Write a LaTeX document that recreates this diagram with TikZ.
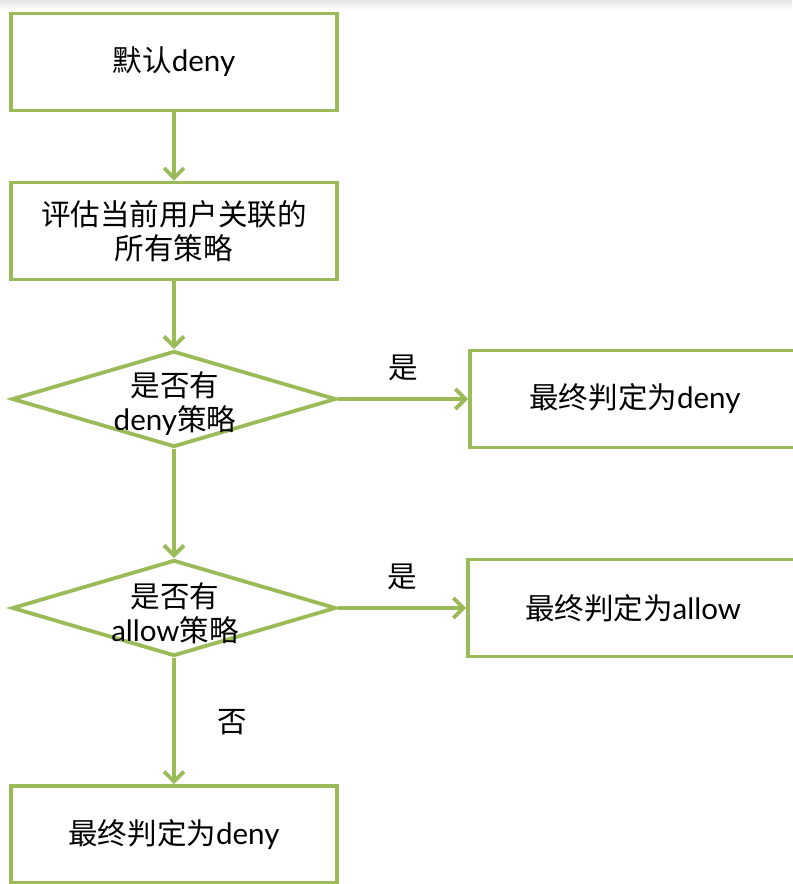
\documentclass[tikz,border=0pt]{standalone}
\usepackage{fontspec}
\setmainfont{Noto Sans CJK SC}
\newfontfamily\enfont{Lato}
\usetikzlibrary{shapes.geometric}
\usetikzlibrary{arrows.meta}
\usepackage{tikz}
\definecolor{leaf}{RGB}{155,187,89}

\begin{document}
\begin{tikzpicture}[x=0.025cm, y=-0.025cm,
  every node/.style={font=\fontsize{21}{24.2}\selectfont},
  block/.style={draw=leaf, line width=2.7pt, rectangle, minimum width=8.15cm, minimum height=2.42cm, align=center, inner sep=0pt},
  decision/.style={draw=leaf, line width=2.7pt, diamond, minimum width=8.1cm, minimum height=2.4cm, inner sep=0pt},
  dtext/.style={align=center, inner sep=0pt},
  flow/.style={draw=leaf, line width=2.7pt, -{Straight Barb[length=2.5mm, width=5mm]}}]
\useasboundingbox (0,0) rectangle (792,884);
\shade[top color=black!10, bottom color=white] (0,0) rectangle (792,10);

\node[block] (start) at (174,62) {默认{\enfont deny}};
\node[block] (eval) at (174,231) {评估当前用户关联的\\所有策略};
\node[decision] (hasdeny) at (174,399) {};
\node[dtext] (hasdenytxt) at (175,404) {是否有\\{\enfont deny}策略};
\node[decision] (hasallow) at (174,608) {};
\node[dtext] (hasallowtxt) at (175,613) {是否有\\{\enfont allow}策略};
\node[block, minimum width=8.25cm] (deny) at (635,399) {最终判定为{\enfont deny}};
\node[block, minimum width=8.25cm] (allow) at (633,608) {最终判定为{\enfont allow}};
\node[block] (denyend) at (174,834.5) {最终判定为{\enfont deny}};

\draw[flow] (start) -- (eval);
\draw[flow] (eval) -- (hasdeny);
\draw[flow] (hasdeny) -- (hasallow);
\draw[flow] (hasallow) -- (denyend);
\draw[flow] (hasdeny.east) -- node[above=0.28cm] (yes1) {是} (deny.west);
\draw[flow] (hasallow.east) -- node[above=0.28cm] (yes2) {是} (allow.west);
\node (no1) at (232,722) {否};

\end{tikzpicture}
\end{document}
